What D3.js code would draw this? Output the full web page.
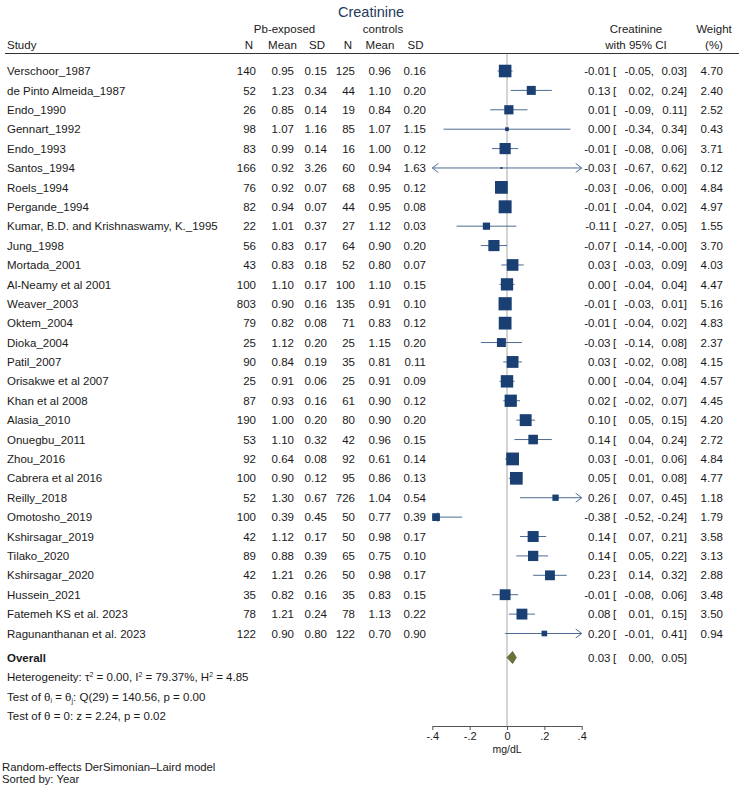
<!DOCTYPE html>
<html>
<head>
<meta charset="utf-8">
<script src="https://cdn.jsdelivr.net/npm/d3@7"></script>
<style>
  html, body { margin: 0; padding: 0; background: #fff; }
  svg { display: block; }
  text { font-family: "Liberation Sans", Arial, Helvetica, sans-serif; }
</style>
</head>
<body>
<div id="chart"></div>
<script>
// ---------------- data ----------------
const studies = [
  "Verschoor_1987", "de Pinto Almeida_1987", "Endo_1990", "Gennart_1992", "Endo_1993",
  "Santos_1994", "Roels_1994", "Pergande_1994", "Kumar, B.D. and Krishnaswamy, K._1995", "Jung_1998",
  "Mortada_2001", "Al-Neamy et al 2001", "Weaver_2003", "Oktem_2004", "Dioka_2004",
  "Patil_2007", "Orisakwe et al 2007", "Khan et al 2008", "Alasia_2010", "Onuegbu_2011",
  "Zhou_2016", "Cabrera et al 2016", "Reilly_2018", "Omotosho_2019", "Kshirsagar_2019",
  "Tilako_2020", "Kshirsagar_2020", "Hussein_2021", "Fatemeh KS et al. 2023", "Ragunanthanan et al. 2023"
];
const expN    = [140, 52, 26, 98, 83, 166, 76, 82, 22, 56, 43, 100, 803, 79, 25, 90, 25, 87, 190, 53, 92, 100, 52, 100, 42, 89, 42, 35, 78, 122];
const expMean = [0.95, 1.23, 0.85, 1.07, 0.99, 0.92, 0.92, 0.94, 1.01, 0.83, 0.83, 1.10, 0.90, 0.82, 1.12, 0.84, 0.91, 0.93, 1.00, 1.10, 0.64, 0.90, 1.30, 0.39, 1.12, 0.88, 1.21, 0.82, 1.21, 0.90];
const expSD   = [0.15, 0.34, 0.14, 1.16, 0.14, 3.26, 0.07, 0.07, 0.37, 0.17, 0.18, 0.17, 0.16, 0.08, 0.20, 0.19, 0.06, 0.16, 0.20, 0.32, 0.08, 0.12, 0.67, 0.45, 0.17, 0.39, 0.26, 0.16, 0.24, 0.80];
const ctlN    = [125, 44, 19, 85, 16, 60, 68, 44, 27, 64, 52, 100, 135, 71, 25, 35, 25, 61, 80, 42, 92, 95, 726, 50, 50, 65, 50, 35, 78, 122];
const ctlMean = [0.96, 1.10, 0.84, 1.07, 1.00, 0.94, 0.95, 0.95, 1.12, 0.90, 0.80, 1.10, 0.91, 0.83, 1.15, 0.81, 0.91, 0.90, 0.90, 0.96, 0.61, 0.86, 1.04, 0.77, 0.98, 0.75, 0.98, 0.83, 1.13, 0.70];
const ctlSD   = [0.16, 0.20, 0.20, 1.15, 0.12, 1.63, 0.12, 0.08, 0.03, 0.20, 0.07, 0.15, 0.10, 0.12, 0.20, 0.11, 0.09, 0.12, 0.20, 0.15, 0.14, 0.13, 0.54, 0.39, 0.17, 0.10, 0.17, 0.15, 0.22, 0.90];
const effect  = [-0.01, 0.13, 0.01, 0.00, -0.01, -0.03, -0.03, -0.01, -0.11, -0.07, 0.03, 0.00, -0.01, -0.01, -0.03, 0.03, 0.00, 0.02, 0.10, 0.14, 0.03, 0.05, 0.26, -0.38, 0.14, 0.14, 0.23, -0.01, 0.08, 0.20];
const ciLow   = [-0.05, 0.02, -0.09, -0.34, -0.08, -0.67, -0.06, -0.04, -0.27, -0.14, -0.03, -0.04, -0.03, -0.04, -0.14, -0.02, -0.04, -0.02, 0.05, 0.04, -0.01, 0.01, 0.07, -0.52, 0.07, 0.05, 0.14, -0.08, 0.01, -0.01];
const ciHigh  = [0.03, 0.24, 0.11, 0.34, 0.06, 0.62, 0.00, 0.02, 0.05, -0, 0.09, 0.04, 0.01, 0.02, 0.08, 0.08, 0.04, 0.07, 0.15, 0.24, 0.06, 0.08, 0.45, -0.24, 0.21, 0.22, 0.32, 0.06, 0.15, 0.41];
const weight  = [4.70, 2.40, 2.52, 0.43, 3.71, 0.12, 4.84, 4.97, 1.55, 3.70, 4.03, 4.47, 5.16, 4.83, 2.37, 4.15, 4.57, 4.45, 4.20, 2.72, 4.84, 4.77, 1.18, 1.79, 3.58, 3.13, 2.88, 3.48, 3.50, 0.94];
const overall = [0.03, 0.00, 0.05];   // estimate, lower, upper
const xTicks = [-0.4, -0.2, 0, 0.2, 0.4];
const xTickLabels = ["-.4", "-.2", "0", ".2", ".4"];
const xDomain = [-0.4, 0.4];

// ---------------- layout ----------------
const W = 739, H = 787;
const FS = 11.5;
const svg = d3.select("#chart").append("svg").attr("width", W).attr("height", H);

const x = d3.scaleLinear().domain(xDomain).range([432.3, 581.7]);
const y = d3.scaleLinear().domain([0, studies.length - 1]).range([71, 633.5]);

const txtCol = "#1a1a1a";
const navy = "#1a3f72";
const lineCol = "#4e6b91";

function fmt(v) {
  const neg = v < 0 || Object.is(v, -0);
  return (neg ? "-" : "") + Math.abs(v).toFixed(2);
}
function txt(xp, yp, s, anchor, opts) {
  opts = opts || {};
  return svg.append("text")
    .attr("x", xp).attr("y", yp).attr("dy", "0.36em")
    .attr("text-anchor", anchor || "start")
    .attr("font-size", opts.size || FS)
    .attr("font-weight", opts.weight || "normal")
    .attr("fill", opts.fill || txtCol)
    .text(s);
}

// title
txt(371, 11.5, "Creatinine", "middle", { size: 14.5, fill: "#233a5c" });

// headers
txt(284.5, 29, "Pb-exposed", "middle");
txt(383, 29, "controls", "middle");
txt(636, 29, "Creatinine", "middle");
txt(714, 29, "Weight", "middle");
txt(7, 45, "Study", "start");
txt(249, 45, "N", "middle");
txt(282.5, 45, "Mean", "middle");
txt(317, 45, "SD", "middle");
txt(348, 45, "N", "middle");
txt(380, 45, "Mean", "middle");
txt(415.5, 45, "SD", "middle");
txt(636, 45, "with 95% CI", "middle");
txt(714, 45, "(%)", "middle");

svg.append("line").attr("x1", 5).attr("x2", 739).attr("y1", 53.5).attr("y2", 53.5)
  .attr("stroke", "#333").attr("stroke-width", 1);

// zero reference line
svg.append("line").attr("x1", x(0)).attr("x2", x(0)).attr("y1", 54).attr("y2", 726)
  .attr("stroke", "#a8a8a8").attr("stroke-width", 1);

// effect text helper
function effectText(yy, es, lo, hi) {
  txt(610.5, yy, fmt(es), "end");
  txt(613, yy, "[", "start");
  txt(654, yy, fmt(lo) + ",", "end");
  txt(687, yy, fmt(hi) + "]", "end");
}

// rows
studies.forEach((name, i) => {
  const yy = y(i);
  txt(7, yy, name, "start");
  txt(256, yy, expN[i], "end");
  txt(294, yy, fmt(expMean[i]), "end");
  txt(327, yy, fmt(expSD[i]), "end");
  txt(355, yy, ctlN[i], "end");
  txt(391, yy, fmt(ctlMean[i]), "end");
  txt(426, yy, fmt(ctlSD[i]), "end");
  effectText(yy, effect[i], ciLow[i], ciHigh[i]);
  txt(723, yy, weight[i].toFixed(2), "end");
});

// CI lines & arrows
const g = svg.append("g");
studies.forEach((name, i) => {
  const yy = y(i);
  const lo = Math.max(ciLow[i], xDomain[0]);
  const hi = Math.min(ciHigh[i], xDomain[1]);
  g.append("line").attr("x1", x(lo)).attr("x2", x(hi)).attr("y1", yy).attr("y2", yy)
    .attr("stroke", lineCol).attr("stroke-width", 1);
  if (ciLow[i] < xDomain[0]) {
    const ax = x(xDomain[0]);
    g.append("path").attr("d", `M${ax + 6},${yy - 4.5}L${ax},${yy}L${ax + 6},${yy + 4.5}`)
      .attr("fill", "none").attr("stroke", lineCol).attr("stroke-width", 1);
  }
  if (ciHigh[i] > xDomain[1]) {
    const ax = x(xDomain[1]);
    g.append("path").attr("d", `M${ax - 6},${yy - 4.5}L${ax},${yy}L${ax - 6},${yy + 4.5}`)
      .attr("fill", "none").attr("stroke", lineCol).attr("stroke-width", 1);
  }
});
// squares
studies.forEach((name, i) => {
  const s = 5.8 * Math.sqrt(weight[i]);
  g.append("rect")
    .attr("x", x(effect[i]) - s / 2).attr("y", y(i) - s / 2)
    .attr("width", s).attr("height", s)
    .attr("fill", navy);
});

// overall
const yo = 657.5;
txt(7, yo, "Overall", "start", { weight: "bold" });
svg.append("path")
  .attr("d", `M${x(overall[1])},${yo}L${x(overall[0])},${yo - 6}L${x(overall[2])},${yo}L${x(overall[0])},${yo + 6}Z`)
  .attr("fill", "#66733a").attr("stroke", "#5a6530").attr("stroke-width", 0.8);
effectText(yo, overall[0], overall[1], overall[2]);

// heterogeneity lines (with super/subscripts)
function richText(yp, parts) {
  const base = yp + FS * 0.36;
  const t = svg.append("text").attr("x", 7).attr("y", base)
    .attr("font-size", FS).attr("fill", txtCol);
  parts.forEach(p => {
    if (typeof p === "string") {
      t.append("tspan").attr("y", base).text(p);
    } else if (p.sup) {
      t.append("tspan").attr("y", base - 4.5).attr("font-size", FS * 0.6).text(p.sup);
    } else {
      t.append("tspan").attr("y", base + 2.5).attr("font-size", FS * 0.6).text(p.sub);
    }
  });
}
richText(677.3, ["Heterogeneity: τ", { sup: "2" }, " = 0.00, I", { sup: "2" }, " = 79.37%, H", { sup: "2" }, " = 4.85"]);
richText(696.7, ["Test of θ", { sub: "i" }, " = θ", { sub: "j" }, ": Q(29) = 140.56, p = 0.00"]);
richText(715.7, ["Test of θ = 0: z = 2.24, p = 0.02"]);

// axis
const axis = d3.axisBottom(x).tickValues(xTicks)
  .tickFormat((d, i) => xTickLabels[i]).tickSize(4).tickSizeOuter(0).tickPadding(2);
const ax = svg.append("g").attr("transform", "translate(0,726)").call(axis);
ax.select(".domain").attr("stroke", "#555");
ax.selectAll(".tick line").attr("stroke", "#555");
ax.selectAll(".tick text").attr("font-size", 11).attr("fill", txtCol)
  .attr("font-family", '"Liberation Sans", Arial, sans-serif');
txt(x(0), 749, "mg/dL", "middle", { size: 10.5 });

// footer
txt(2, 767, "Random-effects DerSimonian–Laird model", "start", { size: 11.3 });
txt(2, 779, "Sorted by: Year", "start", { size: 11.3 });
</script>
</body>
</html>
